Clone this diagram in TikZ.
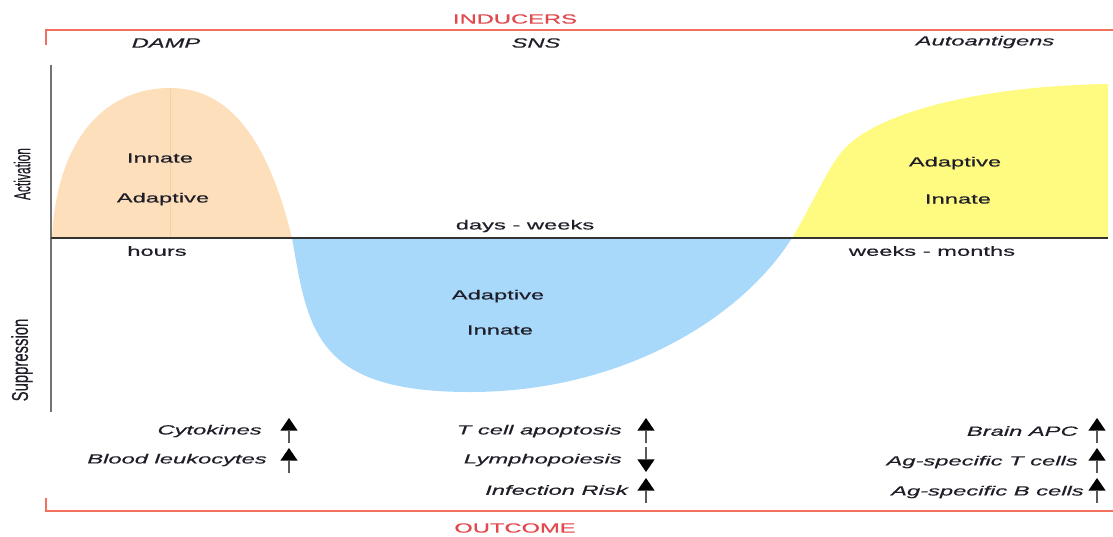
\documentclass[tikz,border=0pt]{standalone}
\usepackage{fontspec}
\setmainfont{Liberation Sans}[FakeStretch=1.78,FakeBold=0.5]
\newfontfamily\axisfont{Liberation Sans}[FakeBold=0.4]
\usetikzlibrary{arrows.meta}
\definecolor{framered}{RGB}{242,112,96}
\definecolor{titlered}{RGB}{226,72,76}
\definecolor{peach}{RGB}{253,223,187}
\definecolor{peachseam}{RGB}{246,208,165}
\definecolor{skyfill}{RGB}{168,216,250}
\definecolor{lemon}{RGB}{255,250,128}
\definecolor{ink}{RGB}{30,30,40}
\begin{document}
\begin{tikzpicture}[x=0.75pt,y=-0.75pt,
  lbl/.style={inner sep=0pt, font=\fontsize{10}{12}\selectfont, text=ink},
  itl/.style={inner sep=0pt, font=\fontsize{10}{12}\selectfont\itshape, text=ink},
  outlbl/.style={itl, anchor=east},
  title/.style={inner sep=0pt, font=\fontsize{10}{12}\selectfont, text=titlered},
  sidelbl/.style={inner sep=0pt, rotate=90, text=ink},
  bracket/.style={draw=framered, line width=1.5pt},
  updown/.style={draw=black!65, line width=1.8pt,
    -{Triangle[width=13pt,length=9.5pt,color=black,line width=0pt]}}
]
\useasboundingbox (0,0) rectangle (1113,536);

% activation / suppression curves
\fill[peach] (52,238) .. controls (57,135) and (108,88) .. (170,88)
  .. controls (230,88) and (268,140) .. (292,238) -- cycle;
\draw[peachseam, line width=0.6pt] (170,89) -- (170,237);
\fill[skyfill] (292,238) .. controls (308,330) and (315,392) .. (470,392)
  .. controls (620,392) and (740,320) .. (792,238) -- cycle;
\fill[lemon] (792,238) .. controls (815,200) and (828,166) .. (845,148)
  .. controls (880,112) and (980,86) .. (1108,84) -- (1108,238) -- cycle;

% axes
\draw[black!55, line width=2.2pt] (51,65) -- (51,412);
\draw[black!80, line width=1pt] (51,238) -- (1108,238);

% inducers and outcome brackets
\draw[bracket] (46,45) -- (46,30) -- (1113,30);
\draw[bracket] (46,498) -- (46,511) -- (1113,511);
\node[title] (ind) at (515,19) {INDUCERS};
\node[title] (out) at (515,528) {OUTCOME};

\node[itl] (damp) at (166,43) {DAMP};
\node[itl] (sns) at (536,43) {SNS};
\node[itl] (auto) at (985,42) {Autoantigens};

% side labels
\node[sidelbl] (act) at (22,174) {\resizebox{39pt}{12.5pt}{\axisfont Activation}};
\node[sidelbl] (sup) at (22,360) {\resizebox{62pt}{12.5pt}{\axisfont Suppression}};

% phase labels
\node[lbl] (i1) at (160,158) {Innate};
\node[lbl] (a1) at (163,199) {Adaptive};
\node[lbl] (t1) at (157,251) {hours};
\node[lbl] (t2) at (525,226) {days - weeks};
\node[lbl] (a2) at (498,296) {Adaptive};
\node[lbl] (i2) at (500,330) {Innate};
\node[lbl] (a3) at (955,163) {Adaptive};
\node[lbl] (i3) at (958,199) {Innate};
\node[lbl] (t3) at (932,251) {weeks - months};

% outcomes
\node[outlbl] (o1) at (262,431) {Cytokines};
\node[outlbl] (o2) at (267,460) {Blood leukocytes};
\node[outlbl] (o3) at (622,431) {T cell apoptosis};
\node[outlbl] (o4) at (622,460) {Lymphopoiesis};
\node[outlbl] (o5) at (628,490) {Infection Risk};
\node[outlbl] (o6) at (1078,431) {Brain APC};
\node[outlbl] (o7) at (1078,462) {Ag-specific T cells};
\node[outlbl] (o8) at (1084,492) {Ag-specific B cells};

% trend arrows
\coordinate (u1a) at (289,443); \coordinate (u1b) at (289,418);
\coordinate (u2a) at (289,473); \coordinate (u2b) at (289,448);
\coordinate (u3a) at (646,443); \coordinate (u3b) at (646,418);
\coordinate (d4a) at (646,447); \coordinate (d4b) at (646,472);
\coordinate (u5a) at (646,503); \coordinate (u5b) at (646,478);
\coordinate (u6a) at (1097,443); \coordinate (u6b) at (1097,418);
\coordinate (u7a) at (1097,473); \coordinate (u7b) at (1097,448);
\coordinate (u8a) at (1097,503); \coordinate (u8b) at (1097,478);
\draw[updown] (u1a) -- (u1b);
\draw[updown] (u2a) -- (u2b);
\draw[updown] (u3a) -- (u3b);
\draw[updown] (d4a) -- (d4b);
\draw[updown] (u5a) -- (u5b);
\draw[updown] (u6a) -- (u6b);
\draw[updown] (u7a) -- (u7b);
\draw[updown] (u8a) -- (u8b);
\end{tikzpicture}
\end{document}
